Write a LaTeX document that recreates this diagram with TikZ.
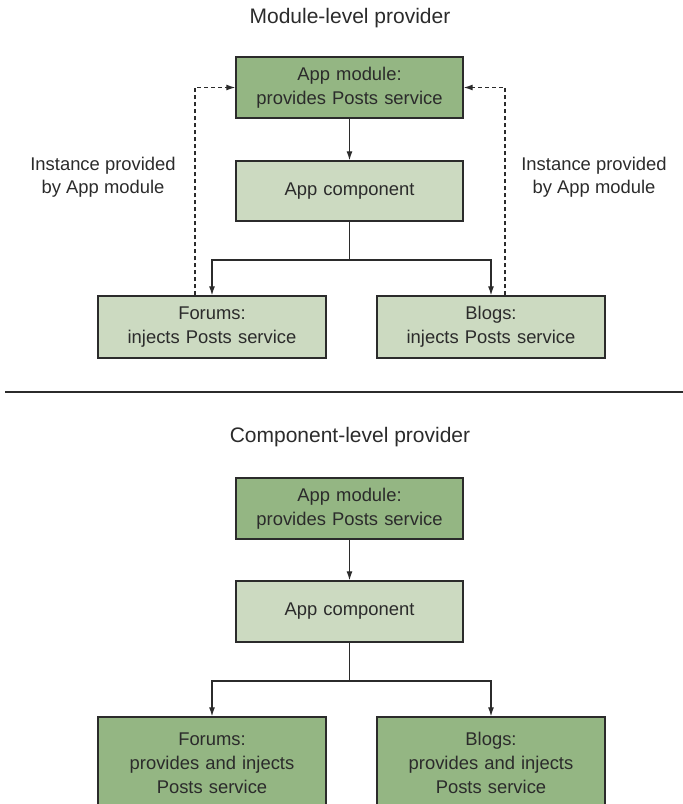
\documentclass[tikz,border=0pt]{standalone}
\usepackage{fontspec}
\setmainfont{Liberation Sans}
\usetikzlibrary{arrows.meta}
\definecolor{darkg}{HTML}{94B683}
\definecolor{lightg}{HTML}{CCDAC1}
\definecolor{ink}{HTML}{2B2B2B}
\tikzset{
  box/.style={draw=ink, line width=1.3pt, minimum width=227pt, text width=220pt, align=center, inner sep=0pt, text=ink,
              font=\fontsize{18.4}{24}\selectfont},
  dbox/.style={box, fill=darkg},
  lbox/.style={box, fill=lightg},
  conn/.style={draw=ink, line width=1.2pt, -{Latex[length=9pt,width=6pt]}},
  dconn/.style={conn, dash pattern=on 4pt off 3pt},
  lbl/.style={text=ink, align=center, font=\fontsize{18.4}{23}\selectfont},
  ttl/.style={text=ink, font=\fontsize{21}{24}\selectfont},
}
\begin{document}
\begin{tikzpicture}[x=1pt,y=-1pt]
\useasboundingbox (0,0) rectangle (683,804);
% top half
\node[ttl] (t1) at (350,18) {Module-level provider};
\node[dbox, minimum height=61pt] (am1) at (349.5,87.5) {App module:\\provides Posts service};
\node[lbox, minimum height=60pt] (ac1) at (349.5,191) {App component};
\node[lbox, minimum height=62pt, minimum width=228pt] (fo1) at (212,327) {Forums:\\injects Posts service};
\node[lbox, minimum height=62pt, minimum width=228pt] (bl1) at (491,327) {Blogs:\\injects Posts service};
\node[lbl] (il) at (103,177) {Instance provided\\by App module};
\node[lbl] (ir) at (594,177) {Instance provided\\by App module};
\coordinate (b1) at (349.5,260);
\draw[conn] (am1) -- (ac1);
\draw[draw=ink, line width=1.2pt] (ac1.south) -- (b1);
\draw[conn] (b1) -| (fo1.north);
\draw[conn] (b1) -| (bl1.north);
\draw[dconn] (fo1.north -| 195,0) |- (am1.west);
\draw[dconn] (bl1.north -| 505,0) |- (am1.east);
% separator
\coordinate (s1) at (5,392);
\coordinate (s2) at (683,392);
\draw[draw=ink, line width=1.5pt] (s1) -- (s2);
% bottom half
\node[ttl] (t2) at (350,437) {Component-level provider};
\node[dbox, minimum height=61pt] (am2) at (349.5,508.5) {App module:\\provides Posts service};
\node[lbox, minimum height=61pt] (ac2) at (349.5,611.5) {App component};
\node[dbox, minimum height=92pt, minimum width=228pt] (fo2) at (212,763) {Forums:\\provides and injects\\Posts service};
\node[dbox, minimum height=92pt, minimum width=228pt] (bl2) at (491,763) {Blogs:\\provides and injects\\Posts service};
\coordinate (b2) at (349.5,681);
\draw[conn] (am2) -- (ac2);
\draw[draw=ink, line width=1.2pt] (ac2.south) -- (b2);
\draw[conn] (b2) -| (fo2.north);
\draw[conn] (b2) -| (bl2.north);
\end{tikzpicture}
\end{document}
